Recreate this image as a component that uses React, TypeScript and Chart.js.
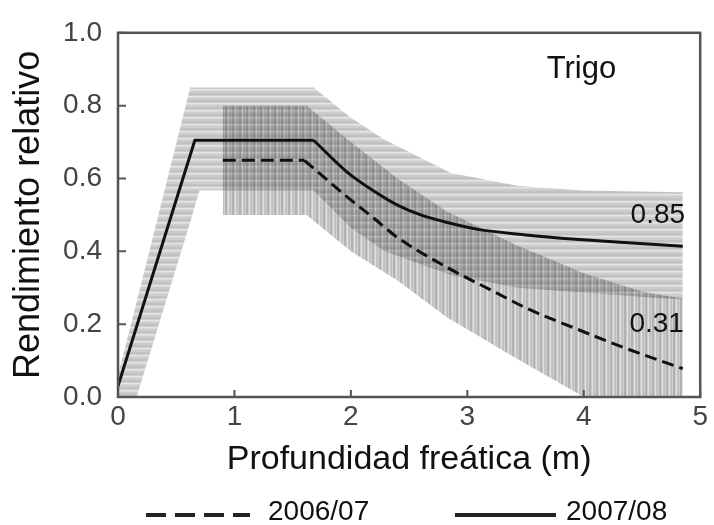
import React, { useEffect, useRef } from 'react';
import { Chart, registerables } from 'chart.js';

Chart.register(...registerables);

// ---- data ----
const line0708X = [0, 0.66, 1.68, 1.97, 2.2, 2.4, 2.6, 2.82, 3.08, 3.5, 3.93, 4.35, 4.85];
const line0708Y = [0.03, 0.705, 0.705, 0.617, 0.565, 0.527, 0.5, 0.48, 0.461, 0.445, 0.433, 0.424, 0.414];
const line0708KinkIndex = 2; // end of the plateau

const line0607X = [0.9, 1.6, 1.97, 2.2, 2.4, 2.82, 3.25, 3.5, 3.93, 4.35, 4.85];
const line0607Y = [0.65, 0.65, 0.549, 0.49, 0.438, 0.357, 0.286, 0.245, 0.188, 0.135, 0.078];
const line0607KinkIndex = 1;

const band0708X = [0, 0.16, 0.62, 0.7, 1.68, 2.0, 2.29, 2.86, 3.43, 3.99, 4.85];
const band0708Upper = [0.06, 0.26, 0.85, 0.85, 0.85, 0.767, 0.706, 0.615, 0.58, 0.567, 0.562];
const band0708Lower = [0, 0, 0.48, 0.567, 0.567, 0.465, 0.4, 0.335, 0.3, 0.287, 0.267];

const band0607X = [0.9, 1.62, 2.0, 2.4, 2.82, 3.4, 4.0, 4.5, 4.85];
const band0607Upper = [0.8, 0.8, 0.7, 0.6, 0.51, 0.42, 0.34, 0.29, 0.27];
const band0607Lower = [0.5, 0.5, 0.4, 0.32, 0.22, 0.11, 0, 0, 0];

const xTicks = [0, 1, 2, 3, 4, 5];
const yTicks = [0, 0.2, 0.4, 0.6, 0.8, 1.0];

const seriesNames = ['2006/07', '2007/08'];
const annotations = [
  { text: 'Trigo', x: 3.98, y: 0.9, align: 'center' as CanvasTextAlign, size: 31 },
  { text: '0.85', x: 4.87, y: 0.5, align: 'right' as CanvasTextAlign, size: 28 },
  { text: '0.31', x: 4.86, y: 0.2, align: 'right' as CanvasTextAlign, size: 28 },
];

const FONT = '"Liberation Sans", Arial, Helvetica, sans-serif';

const pts = (xs: number[], ys: number[]) => xs.map((x, i) => ({ x, y: ys[i] }));

function makePattern(dir: 'h' | 'v', shades: number[]) {
  const c = document.createElement('canvas');
  const n = shades.length;
  c.width = dir === 'h' ? 2 : n;
  c.height = dir === 'h' ? n : 2;
  const ctx = c.getContext('2d')!;
  shades.forEach((a, i) => {
    ctx.fillStyle = `rgba(0,0,0,${a})`;
    if (dir === 'h') ctx.fillRect(0, i, 2, 1);
    else ctx.fillRect(i, 0, 1, 2);
  });
  return ctx.createPattern(c, 'repeat')!;
}

const decorPlugin = {
  id: 'decor',
  afterDraw(chart: any) {
    const { ctx, chartArea: a, scales } = chart;
    const xs = scales.x;
    const ys = scales.y;
    ctx.save();
    // frame
    ctx.strokeStyle = '#555';
    ctx.lineWidth = 2.5;
    ctx.strokeRect(a.left, a.top, a.right - a.left, a.bottom - a.top);
    // inner ticks
    ctx.lineWidth = 2;
    ctx.beginPath();
    yTicks.forEach((v) => {
      const py = ys.getPixelForValue(v);
      ctx.moveTo(a.left, py);
      ctx.lineTo(a.left + 8, py);
    });
    xTicks.forEach((v) => {
      const px = xs.getPixelForValue(v);
      ctx.moveTo(px, a.bottom);
      ctx.lineTo(px, a.bottom - 7);
    });
    ctx.stroke();
    // annotations
    ctx.fillStyle = '#111';
    ctx.textBaseline = 'middle';
    annotations.forEach((t) => {
      ctx.font = `${t.size}px ${FONT}`;
      ctx.textAlign = t.align;
      ctx.fillText(t.text, xs.getPixelForValue(t.x), ys.getPixelForValue(t.y));
    });
    // legend
    const ly = 515;
    ctx.strokeStyle = '#222';
    ctx.lineWidth = 4;
    ctx.setLineDash([20, 9]);
    ctx.beginPath();
    ctx.moveTo(146, ly);
    ctx.lineTo(250, ly);
    ctx.stroke();
    ctx.setLineDash([]);
    ctx.beginPath();
    ctx.moveTo(455, ly);
    ctx.lineTo(556, ly);
    ctx.stroke();
    ctx.font = `28px ${FONT}`;
    ctx.textAlign = 'left';
    ctx.fillStyle = '#111';
    ctx.fillText(seriesNames[0], 268, 512);
    ctx.fillText(seriesNames[1], 566, 512);
    ctx.restore();
  },
};

export default function App() {
  const ref = useRef<HTMLCanvasElement>(null);

  useEffect(() => {
    if (!ref.current) return;
    const hPat = makePattern('h', [0.2, 0.2, 0.24, 0.24, 0.2, 0.1, 0.15]);
    const vPat = makePattern('v', [0.18, 0.3, 0.3, 0.2, 0.12, 0.22, 0.26]);

    const p0708 = pts(line0708X, line0708Y);
    const p0607 = pts(line0607X, line0607Y);

    const lineBase = {
      borderColor: '#111',
      borderWidth: 3,
      pointRadius: 0,
      fill: false,
    };

    const chart = new Chart(ref.current, {
      type: 'line',
      data: {
        datasets: [
          { ...lineBase, label: seriesNames[1], data: p0708.slice(0, line0708KinkIndex + 1), tension: 0 },
          {
            ...lineBase,
            label: seriesNames[1] + ' decay',
            data: p0708.slice(line0708KinkIndex),
            cubicInterpolationMode: 'monotone',
          },
          {
            ...lineBase,
            label: seriesNames[0],
            data: p0607.slice(0, line0607KinkIndex + 1),
            borderDash: [13, 6],
            tension: 0,
          },
          {
            ...lineBase,
            label: seriesNames[0] + ' decay',
            data: p0607.slice(line0607KinkIndex),
            borderDash: [12, 6],
            cubicInterpolationMode: 'monotone',
          },
          {
            label: 'band0708lo',
            data: pts(band0708X, band0708Lower),
            borderWidth: 0,
            borderColor: 'rgba(0,0,0,0)',
            pointRadius: 0,
            fill: false,
          },
          {
            label: 'band0708hi',
            data: pts(band0708X, band0708Upper),
            borderWidth: 0,
            borderColor: 'rgba(0,0,0,0)',
            backgroundColor: hPat as any,
            pointRadius: 0,
            fill: 4,
          },
          {
            label: 'band0607lo',
            data: pts(band0607X, band0607Lower),
            borderWidth: 0,
            borderColor: 'rgba(0,0,0,0)',
            pointRadius: 0,
            fill: false,
          },
          {
            label: 'band0607hi',
            data: pts(band0607X, band0607Upper),
            borderWidth: 0,
            borderColor: 'rgba(0,0,0,0)',
            backgroundColor: vPat as any,
            pointRadius: 0,
            fill: 6,
          },
        ],
      },
      options: {
        animation: false,
        responsive: false,
        devicePixelRatio: 1,
        layout: { padding: { top: 23, right: 7, left: 0, bottom: 0 } },
        plugins: {
          legend: { display: false },
          tooltip: { enabled: false },
        },
        scales: {
          x: {
            type: 'linear',
            min: 0,
            max: 5,
            afterBuildTicks: (s: any) => {
              s.ticks = xTicks.map((v) => ({ value: v }));
            },
            ticks: {
              font: { size: 28, family: FONT, lineHeight: 1 },
              color: '#444',
              padding: 6,
              callback: (v: any) => String(v),
            },
            grid: { display: false, drawTicks: false },
            border: { display: false },
            title: {
              display: true,
              text: 'Profundidad freática (m)',
              font: { size: 34, family: FONT },
              color: '#111',
              padding: { top: 0, bottom: 45 },
            },
            afterFit: (s: any) => {
              s.height = 128;
            },
          },
          y: {
            type: 'linear',
            min: 0,
            max: 1,
            afterBuildTicks: (s: any) => {
              s.ticks = yTicks.map((v) => ({ value: v }));
            },
            ticks: {
              font: { size: 28, family: FONT },
              color: '#444',
              padding: 16,
              callback: (v: any) => Number(v).toFixed(1),
            },
            grid: { display: false, drawTicks: false },
            border: { display: false },
            title: {
              display: true,
              text: 'Rendimiento relativo',
              font: { size: 36, family: FONT },
              color: '#111',
              padding: { top: 7, bottom: 0 },
            },
            afterFit: (s: any) => {
              s.width = 118;
            },
          },
        },
      },
      plugins: [decorPlugin],
    });
    return () => chart.destroy();
  }, []);

  return (
    <div style={{ position: 'fixed', left: 0, top: 0, width: 714, height: 525, background: '#fff' }}>
      <canvas ref={ref} width={714} height={525} style={{ display: 'block', width: 714, height: 525 }} />
    </div>
  );
}
